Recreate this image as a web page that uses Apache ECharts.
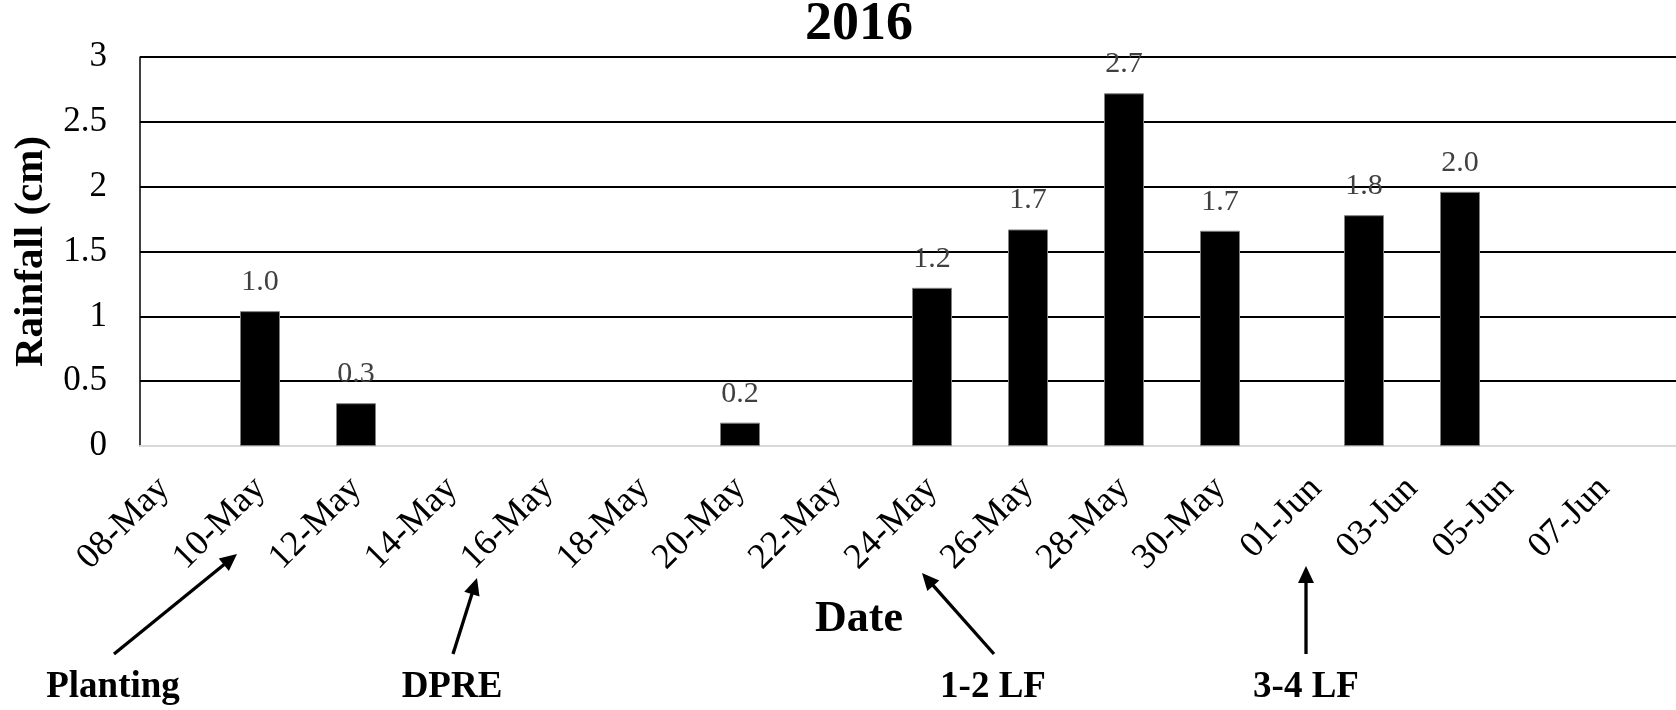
<!DOCTYPE html>
<html>
<head>
<meta charset="utf-8">
<script src="https://cdn.jsdelivr.net/npm/echarts@6/dist/echarts.min.js"></script>
<style>
  html, body { margin: 0; padding: 0; background: #fff; }
  #chart { width: 1676px; height: 710px; }
</style>
</head>
<body>
<div id="chart"></div>
<script>
// ---- Data ----
const categories = [
  '08-May','09-May','10-May','11-May','12-May','13-May','14-May','15-May',
  '16-May','17-May','18-May','19-May','20-May','21-May','22-May','23-May',
  '24-May','25-May','26-May','27-May','28-May','29-May','30-May','31-May',
  '01-Jun','02-Jun','03-Jun','04-Jun','05-Jun','06-Jun','07-Jun','08-Jun'
];
const rainDates  = ['10-May','12-May','20-May','24-May','26-May','28-May','30-May','02-Jun','04-Jun'];
const rainValues = [1.04, 0.33, 0.18, 1.22, 1.67, 2.72, 1.66, 1.78, 1.96];
const yTicks = { min: 0, max: 3, interval: 0.5 };
const titleText = '2016';
const yName = 'Rainfall (cm)';
const xName = 'Date';
const stages = ['Planting', 'DPRE', '1-2 LF', '3-4 LF'];

// ---- Annotation geometry (not data) ----
const stageLayout = [
  { x: 113,  tail: [114, 654],  tip: [237, 554] },
  { x: 452,  tail: [453, 654],  tip: [477, 578] },
  { x: 993,  tail: [994, 654],  tip: [922, 573] },
  { x: 1306, tail: [1306, 654], tip: [1306, 566] }
];

const serif = '"Liberation Serif", "Times New Roman", serif';

function arrow(tail, tip) {
  const dx = tip[0] - tail[0], dy = tip[1] - tail[1];
  const len = Math.sqrt(dx * dx + dy * dy);
  const ux = dx / len, uy = dy / len;
  const headL = 17, headW = 8;
  const bx = tip[0] - ux * headL, by = tip[1] - uy * headL;
  return [
    { type: 'line', shape: { x1: tail[0], y1: tail[1], x2: bx + ux * 2, y2: by + uy * 2 },
      style: { stroke: '#000', lineWidth: 3.3 } },
    { type: 'polygon', shape: { points: [
        [tip[0], tip[1]],
        [bx - uy * headW, by + ux * headW],
        [bx + uy * headW, by - ux * headW]
      ] }, style: { fill: '#000' } }
  ];
}

const graphics = [
  { type: 'text', x: 859, y: 25, style: { text: titleText, textAlign: 'center', textVerticalAlign: 'middle',
      font: 'bold 54px ' + serif, fill: '#000' } },
  { type: 'text', x: 859, y: 620, style: { text: xName, textAlign: 'center', textVerticalAlign: 'middle',
      font: 'bold 44px ' + serif, fill: '#000' } }
];
stages.forEach((s, i) => {
  const L = stageLayout[i];
  graphics.push({ type: 'text', x: L.x, y: 687, style: { text: s, textAlign: 'center', textVerticalAlign: 'middle',
      font: 'bold 37px ' + serif, fill: '#000' } });
  arrow(L.tail, L.tip).forEach(g => graphics.push(g));
});

const chart = echarts.init(document.getElementById('chart'), null, { renderer: 'canvas' });
chart.setOption({
  animation: false,
  backgroundColor: '#fff',
  grid: { left: 140, right: -2, top: 57, bottom: 264, containLabel: false },
  xAxis: {
    type: 'category',
    data: categories,
    boundaryGap: true,
    axisLine: { show: true, lineStyle: { color: '#d9d9d9', width: 2 } },
    axisTick: { show: false },
    splitLine: { show: false },
    axisLabel: {
      interval: (idx) => idx % 2 === 0,
      rotate: 45,
      margin: 37,
      color: '#000',
      fontFamily: serif,
      fontSize: 36,
      hideOverlap: false
    }
  },
  yAxis: {
    type: 'value',
    min: yTicks.min,
    max: yTicks.max,
    interval: yTicks.interval,
    name: yName,
    nameLocation: 'middle',
    nameRotate: 90,
    nameGap: 88,
    nameTextStyle: { fontFamily: serif, fontWeight: 'bold', fontSize: 41, color: '#000' },
    axisLine: { show: true, lineStyle: { color: '#000', width: 1.5 } },
    axisTick: { show: false },
    splitLine: { show: true, lineStyle: { color: '#000', width: 1.8 } },
    axisLabel: { margin: 33, color: '#000', fontFamily: serif, fontSize: 35 }
  },
  series: [{
    type: 'bar',
    data: rainDates.map((d, i) => [d, rainValues[i]]),
    barWidth: 40,
    itemStyle: { color: '#000', borderColor: '#808080', borderWidth: 1 },
    label: {
      show: true,
      position: 'top',
      distance: 14,
      color: '#404040',
      fontFamily: serif,
      fontSize: 30,
      formatter: p => p.value[1].toFixed(1)
    },
    z: 3
  }],
  graphic: graphics
});
</script>
</body>
</html>
